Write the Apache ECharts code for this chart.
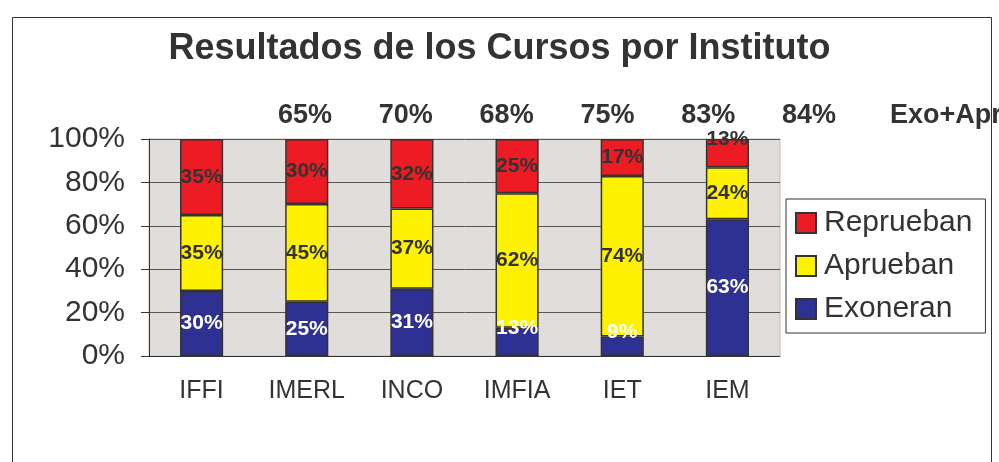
<!DOCTYPE html>
<html>
<head>
<meta charset="utf-8">
<script src="https://cdn.jsdelivr.net/npm/echarts@6/dist/echarts.min.js"></script>
<style>
  html, body { margin: 0; padding: 0; background: #fff; }
  #chart { width: 999px; height: 462px; }
</style>
</head>
<body>
<div id="chart"></div>
<script>
var institutos = ['IFFI', 'IMERL', 'INCO', 'IMFIA', 'IET', 'IEM'];
var exoneran = [30, 25, 31, 13, 9, 63];
var aprueban = [35, 45, 37, 62, 74, 24];
var reprueban = [35, 30, 32, 25, 17, 13];
var exoApr = ['65%', '70%', '68%', '75%', '83%', '84%', 'Exo+Apr'];

var font = '"Liberation Sans", Arial, sans-serif';
var ink = '#333';

// Excel pushes labels of thin segments upward a bit
function withLabels(values) {
    return values.map(function (v) {
        if (v < 15) {
            return { value: v, label: { offset: [0, -14] } };
        }
        return v;
    });
}

function serie(name, values, color, labelColor) {
    return {
        name: name,
        type: 'bar',
        stack: 'total',
        barWidth: '41%',
        itemStyle: { color: color, borderColor: ink, borderWidth: 1.5 },
        label: {
            show: true,
            position: 'inside',
            formatter: '{c}%',
            fontFamily: font,
            fontWeight: 'bold',
            fontSize: 21,
            color: labelColor
        },
        data: withLabels(values)
    };
}

var topTexts = exoApr.map(function (t, i) {
    var last = i === exoApr.length - 1;
    return {
        type: 'text',
        left: last ? 890 : 305 + i * 100.8 - 27,
        top: 102,
        style: {
            text: t,
            fontFamily: font,
            fontWeight: 'bold',
            fontSize: 27,
            fill: ink
        }
    };
});

var option = {
    backgroundColor: '#fff',
    animation: false,
    title: {
        text: 'Resultados de los Cursos por Instituto',
        left: 'center',
        top: 26,
        textStyle: { fontFamily: font, fontWeight: 'bold', fontSize: 36, color: ink }
    },
    legend: {
        orient: 'vertical',
        left: 786,
        top: 199,
        padding: [9, 13, 9, 9],
        icon: 'rect',
        itemWidth: 20,
        itemHeight: 20,
        itemGap: 13,
        borderColor: ink,
        borderWidth: 1,
        data: ['Reprueban', 'Aprueban', 'Exoneran'],
        textStyle: { fontFamily: font, fontSize: 30, color: ink, padding: [0, 0, 0, 3] }
    },
    grid: {
        left: 149,
        right: 219,
        top: 139,
        bottom: 106,
        show: true,
        backgroundColor: '#e1ddda',
        borderColor: '#c4bcb8',
        borderWidth: 1
    },
    xAxis: {
        type: 'category',
        data: institutos,
        axisLine: { lineStyle: { color: ink, width: 1 } },
        axisTick: { length: 8, lineStyle: { color: ink } },
        axisLabel: { fontFamily: font, fontSize: 25, color: ink, margin: 23 }
    },
    yAxis: {
        type: 'value',
        min: 0,
        max: 100,
        interval: 20,
        axisLine: { show: true, lineStyle: { color: ink, width: 1 } },
        axisTick: { show: true, length: 8, lineStyle: { color: ink } },
        axisLabel: { formatter: '{value}%', fontFamily: font, fontSize: 30, color: ink, margin: 24 },
        splitLine: { lineStyle: { color: '#555', width: 1 } }
    },
    graphic: [
        {
            type: 'rect',
            left: 10,
            top: 15,
            shape: { width: 979, height: 460 },
            style: { fill: null, stroke: ink, lineWidth: 1 },
            silent: true
        }
    ].concat(topTexts),
    series: [
        serie('Exoneran', exoneran, '#2e3192', '#fff'),
        serie('Aprueban', aprueban, '#fff200', ink),
        serie('Reprueban', reprueban, '#ed1c24', ink)
    ]
};

var myChart = echarts.init(document.getElementById('chart'));
myChart.setOption(option);
</script>
</body>
</html>
